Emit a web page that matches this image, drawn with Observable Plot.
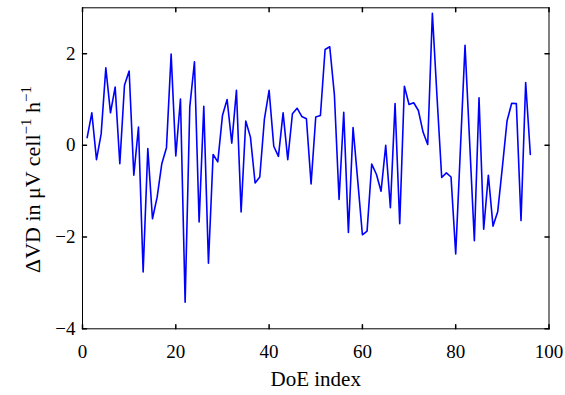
<!DOCTYPE html>
<html><head><meta charset="utf-8">
<script src="https://cdn.jsdelivr.net/npm/d3@7"></script>
<script src="https://cdn.jsdelivr.net/npm/@observablehq/plot@0.6"></script>
<style>body{margin:0;background:#fff} svg{display:block}</style>
</head><body><div id="chart"></div>
<script>
const doeValues = [
  0.17, 0.71, -0.31, 0.25, 1.69, 0.71, 1.27, -0.40, 1.31, 1.62,
  -0.65, 0.40, -2.76, -0.07, -1.60, -1.13, -0.40, -0.05, 1.99, -0.23,
  1.01, -3.42, 0.84, 1.82, -1.67, 0.85, -2.57, -0.20, -0.36, 0.65,
  1.00, 0.05, 1.20, -1.45, 0.53, 0.18, -0.82, -0.69, 0.58, 1.20,
  -0.02, -0.24, 0.71, -0.31, 0.69, 0.81, 0.63, 0.58, -0.84, 0.62,
  0.65, 2.09, 2.15, 1.10, -1.18, 0.72, -1.90, 0.39, -0.77, -1.95,
  -1.87, -0.41, -0.63, -1.00, 0.00, -1.36, 0.91, -1.71, 1.29, 0.89,
  0.93, 0.76, 0.29, 0.02, 2.88, 1.05, -0.70, -0.60, -0.69, -2.37,
  -0.10, 2.18, 0.05, -2.08, 1.04, -1.83, -0.65, -1.76, -1.45, -0.48,
  0.53, 0.92, 0.91, -1.64, 1.37, -0.20
];
const xTicks = [0, 20, 40, 60, 80, 100];
const yTicks = [-4, -2, 0, 2];
const xLabel = "DoE index";
const yLabelParts = ["ΔVD in μV cell", "−1", " h", "−1"];

const data = doeValues.map((v, i) => ({doe: i + 1, dvd: v}));
const tickShape = {draw(ctx, l) { ctx.moveTo(0, 0); ctx.lineTo(0, -l); }};
const tl = 4;
const serif = "'Liberation Serif', 'Times New Roman', serif";

const svg = Plot.plot({
  width: 565,
  height: 395,
  marginLeft: 82,
  marginRight: 16.5,
  marginTop: 7.3,
  marginBottom: 66.7,
  style: {fontFamily: serif, fontSize: "19px", background: "#fff", color: "#000"},
  x: {domain: [0, 100]},
  y: {domain: [-4, 3]},
  marks: [
    Plot.axisX(xTicks, {tickSize: 0, tickPadding: 16, label: null, fontSize: 19}),
    Plot.axisY(yTicks, {tickSize: 0, tickPadding: 7, label: null, fontSize: 19}),
    Plot.vector(xTicks, {x: d => d, frameAnchor: "bottom", rotate: 0, length: tl, anchor: "start", shape: tickShape, stroke: "#000"}),
    Plot.vector(xTicks, {x: d => d, frameAnchor: "top", rotate: 180, length: tl, anchor: "start", shape: tickShape, stroke: "#000"}),
    Plot.vector(yTicks, {y: d => d, frameAnchor: "left", rotate: 90, length: tl, anchor: "start", shape: tickShape, stroke: "#000"}),
    Plot.vector(yTicks, {y: d => d, frameAnchor: "right", rotate: -90, length: tl, anchor: "start", shape: tickShape, stroke: "#000"}),
    Plot.line(data, {x: "doe", y: "dvd", stroke: "#0000ff", strokeWidth: 1.6}),
    Plot.frame({stroke: "#000", strokeWidth: 1}),
    Plot.text([xLabel], {frameAnchor: "bottom", dy: 57, fontSize: 21, text: d => d, fill: "#000"})
  ]
});

const t = d3.select(svg).append("text")
  .attr("transform", `translate(40,273) rotate(-90)`)
  .attr("text-anchor", "start")
  .attr("fill", "#000")
  .style("font-family", serif)
  .style("font-size", "22px");
t.append("tspan").text(yLabelParts[0]);
t.append("tspan").attr("dy", -9).style("font-size", "15px").text(yLabelParts[1]);
t.append("tspan").attr("dy", 9).text(yLabelParts[2]);
t.append("tspan").attr("dy", -9).style("font-size", "15px").text(yLabelParts[3]);

document.getElementById("chart").appendChild(svg);
</script>
</body></html>
